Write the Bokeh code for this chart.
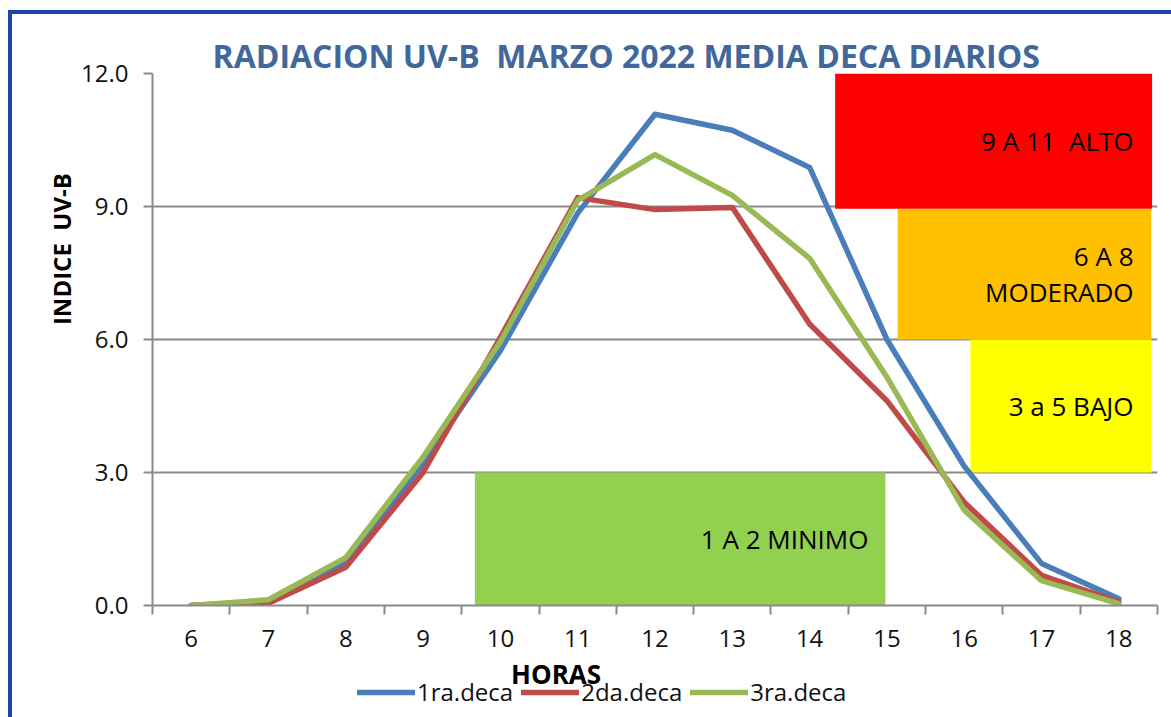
from bokeh.plotting import figure
from bokeh.layouts import column
from bokeh.models import (Range1d, FixedTicker, NumeralTickFormatter, Legend,
                          LegendItem, ColumnDataSource)
from bokeh.core.properties import value
from bokeh.embed import file_html
from bokeh.resources import INLINE

# ---------------- data ----------------
hours = [6, 7, 8, 9, 10, 11, 12, 13, 14, 15, 16, 17, 18]
deca1 = [0.0, 0.10, 0.97, 3.20, 5.75, 8.85, 11.08, 10.72, 9.88, 6.00, 3.14, 0.95, 0.15]
deca2 = [0.0, 0.05, 0.86, 3.00, 6.05, 9.20, 8.93, 8.98, 6.35, 4.62, 2.33, 0.68, 0.08]
deca3 = [0.0, 0.13, 1.08, 3.35, 5.95, 9.14, 10.17, 9.25, 7.83, 5.15, 2.15, 0.56, 0.04]
series_names = ["1ra.deca", "2da.deca", "3ra.deca"]

band_labels = ["1 A 2 MINIMO", "3 a 5 BAJO", "6 A 8\nMODERADO", "9 A 11\u00a0 ALTO"]
band_bottom = [0.0, 3.0, 6.0, 8.95]
band_top = [3.0, 6.0, 8.95, 12.0]

y_ticks = [0, 3, 6, 9, 12]

title_text = "RADIACION UV-B\u00a0 MARZO 2022 MEDIA DECA DIARIOS"
x_title = "HORAS"
y_title = "INDICE\u00a0 UV-B"

# ---------------- layout / style ----------------
BAND_LEFT = [9.67, 16.08, 15.14, 14.33]
BAND_RIGHT = [14.98, 18.42, 18.42, 18.43]
BAND_TEXT_X = [14.76, 18.19, 18.19, 18.19]
BAND_COLORS = ["#92D050", "#FFFF00", "#FFC000", "#FF0000"]
SERIES_COLORS = ["#4A7EBB", "#BE4B48", "#98B954"]
GRAY = "#8A8A8A"
FRAME_BLUE = "#1C45A8"
FONT = "Open Sans"
W = 1159
Y_LABEL_PAD = "\u00a0" * 29     # lifts the rotated axis title above centre, as in the original
NAN = float("nan")

xr = Range1d(5.5, 18.5)

p = figure(width=W, height=648, output_backend="svg", toolbar_location=None,
           x_range=xr, y_range=Range1d(0, 12),
           min_border_left=140, min_border_right=14, min_border_top=59,
           min_border_bottom=57)
p.outline_line_color = None
p.background_fill_color = "white"
p.border_fill_color = "white"

# title
p.title.text = title_text
p.title.align = "left"
p.title.offset = 60
p.title.text_font = FONT
p.title.text_font_style = "bold"
p.title.text_font_size = "32px"
p.title.text_color = "#41689C"
p.title.standoff = -7

# x axis
xa = p.xaxis[0]
xa.ticker = FixedTicker(ticks=hours, minor_ticks=[h - 0.5 for h in hours] + [hours[-1] + 0.5])
xa.axis_line_color = GRAY
xa.axis_line_width = 2
xa.major_tick_line_color = None
xa.major_tick_out = 0
xa.major_tick_in = 0
xa.minor_tick_line_color = GRAY
xa.minor_tick_line_width = 2
xa.minor_tick_out = 9
xa.minor_tick_in = 0
xa.major_label_text_font = FONT
xa.major_label_text_font_size = "24px"
xa.major_label_text_color = "#111111"
xa.major_label_standoff = 15

# y axis
ya = p.yaxis[0]
ya.ticker = FixedTicker(ticks=y_ticks)
ya.formatter = NumeralTickFormatter(format="0.0")
ya.axis_line_color = GRAY
ya.axis_line_width = 2
ya.major_tick_line_color = GRAY
ya.major_tick_line_width = 2
ya.major_tick_out = 9
ya.major_tick_in = 0
ya.minor_tick_line_color = None
ya.major_label_text_font = FONT
ya.major_label_text_font_size = "24px"
ya.major_label_text_color = "#111111"
ya.major_label_standoff = 15
ya.axis_label = Y_LABEL_PAD + y_title
ya.axis_label_text_font = FONT
ya.axis_label_text_font_style = "bold"
ya.axis_label_text_font_size = "24px"
ya.axis_label_text_color = "#000000"
ya.axis_label_standoff = 0

p.xgrid.grid_line_color = None
p.ygrid.grid_line_color = GRAY
p.ygrid.grid_line_width = 2
p.ygrid.ticker = FixedTicker(ticks=y_ticks)

# bands
band_src = ColumnDataSource(dict(left=BAND_LEFT, right=BAND_RIGHT, bottom=band_bottom,
                                 top=band_top, color=BAND_COLORS, label=band_labels,
                                 tx=BAND_TEXT_X,
                                 ty=[(b + t) / 2 for b, t in zip(band_bottom, band_top)]))
p.quad(left="left", right="right", bottom="bottom", top="top", fill_color="color",
       line_color=None, source=band_src)
p.text(x="tx", y="ty", text="label", source=band_src, text_align="right",
       text_baseline="middle", text_font=value(FONT), text_font_size="26px",
       text_color="#000000", text_line_height=1.0)

# series
for vals, col in zip([deca1, deca2, deca3], SERIES_COLORS):
    p.line(hours, vals, line_width=5.5, line_color=col, line_join="round", line_cap="round")

# ---- strip below the chart: x-axis title and legend ----
p2 = figure(width=W, height=55, output_backend="svg", toolbar_location=None,
            x_range=xr, y_range=Range1d(-55, 0), x_axis_type=None, y_axis_type=None,
            min_border_left=140, min_border_right=14, min_border_top=0,
            min_border_bottom=0)
p2.title = None
p2.outline_line_color = None
p2.grid.visible = False
p2.background_fill_color = "white"
p2.border_fill_color = "white"

p2.text(x=[10.72], y=[-11], text=[x_title], text_align="center",
        text_baseline="middle", text_font=value(FONT), text_font_style="bold",
        text_font_size="26px", text_color="#000000")

items = []
for name, col in zip(series_names, SERIES_COLORS):
    # legend swatch only: a one-point placeholder with no visible geometry
    r = p2.line(x=[NAN], y=[NAN], line_width=5.5, line_color=col, line_cap="round")
    items.append(LegendItem(label=name, renderers=[r]))
legend = Legend(items=items, orientation="horizontal", location=(205, 9),
                glyph_width=58, glyph_height=20, label_standoff=2, spacing=8,
                padding=0, margin=0, background_fill_alpha=0, border_line_color=None,
                label_text_font=FONT, label_text_font_size="24px",
                label_text_color="#111111")
p2.add_layout(legend, "center")

layout = column(p, p2, spacing=0)
layout.styles = {"position": "relative", "left": "8px", "top": "10px",
                 "border-top": f"4px solid {FRAME_BLUE}",
                 "border-left": f"4px solid {FRAME_BLUE}"}

open("out.html", "w").write(file_html(layout, INLINE))
